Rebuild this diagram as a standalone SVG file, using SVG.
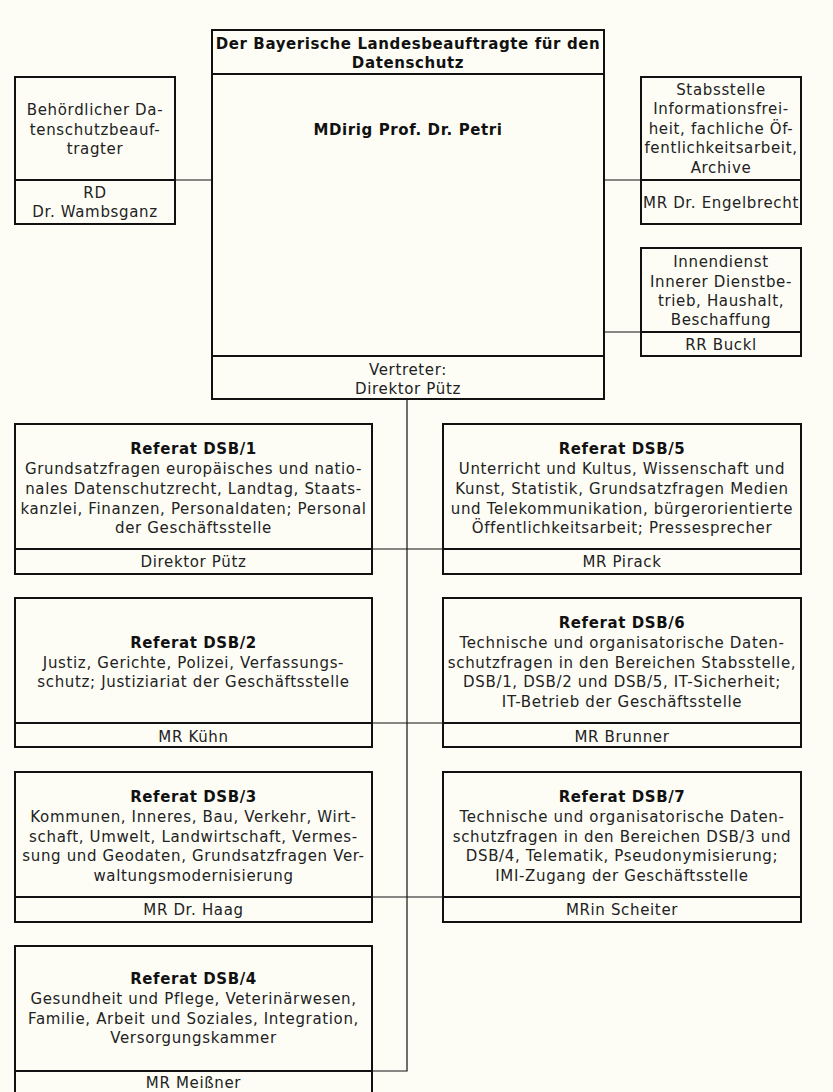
<svg xmlns="http://www.w3.org/2000/svg" width="833" height="1092" viewBox="0 0 833 1092">
<style>
.bx{fill:none;stroke:#111;stroke-width:2}
.dv{stroke:#111;stroke-width:2}
.cn{stroke:#111;stroke-width:1.2;fill:none}
text{font-family:"DejaVu Sans",Verdana,sans-serif;font-size:15px;letter-spacing:0.65px;fill:#222;text-anchor:middle}
.b{font-weight:bold;fill:#111;letter-spacing:0.6px}
</style>
<rect x="0" y="0" width="833" height="1092" fill="#fdfdf6"/>
<g id="connectors">
<line class="cn" x1="175" y1="180" x2="212" y2="180"/>
<line class="cn" x1="604" y1="180" x2="641" y2="180"/>
<line class="cn" x1="604" y1="332" x2="641" y2="332"/>
<polyline class="cn" points="407,399 407,1071 372,1071"/>
<line class="cn" x1="372" y1="549" x2="443" y2="549"/>
<line class="cn" x1="372" y1="723" x2="443" y2="723"/>
<line class="cn" x1="372" y1="897" x2="443" y2="897"/>
</g>
<g id="main">
<rect class="bx" x="212" y="30" width="392" height="369"/>
<line class="dv" x1="212" y1="74" x2="604" y2="74"/>
<line class="dv" x1="212" y1="356" x2="604" y2="356"/>
<text class="b" x="408" y="49">Der Bayerische Landesbeauftragte für den</text>
<text class="b" x="408" y="68">Datenschutz</text>
<text class="b" x="408" y="135">MDirig Prof. Dr. Petri</text>
<text x="408" y="375">Vertreter:</text>
<text x="408" y="394">Direktor Pütz</text>
</g>
<g id="bdsb">
<rect class="bx" x="15" y="77" width="160" height="147"/>
<line class="dv" x1="15" y1="180" x2="175" y2="180"/>
<text x="95" y="115">Behördlicher Da-</text>
<text x="95" y="135">tenschutzbeauf-</text>
<text x="95" y="154">tragter</text>
<text x="95" y="198">RD</text>
<text x="95" y="217">Dr. Wambsganz</text>
</g>
<g id="stabsstelle">
<rect class="bx" x="641" y="77" width="160" height="147"/>
<line class="dv" x1="641" y1="180" x2="801" y2="180"/>
<text x="721" y="95">Stabsstelle</text>
<text x="721" y="114">Informationsfrei-</text>
<text x="721" y="134">heit, fachliche Öf-</text>
<text x="721" y="153">fentlichkeitsarbeit,</text>
<text x="721" y="173">Archive</text>
<text x="721" y="208">MR Dr. Engelbrecht</text>
</g>
<g id="innendienst">
<rect class="bx" x="641" y="248" width="160" height="108"/>
<line class="dv" x1="641" y1="332" x2="801" y2="332"/>
<text x="721" y="267">Innendienst</text>
<text x="721" y="287">Innerer Dienstbe-</text>
<text x="721" y="306">trieb, Haushalt,</text>
<text x="721" y="325">Beschaffung</text>
<text x="721" y="350">RR Buckl</text>
</g>
<g id="dsb1">
<rect class="bx" x="15" y="424" width="357" height="150"/>
<line class="dv" x1="15" y1="549" x2="372" y2="549"/>
<text class="b" x="193.5" y="454">Referat DSB/1</text>
<text x="193.5" y="474">Grundsatzfragen europäisches und natio-</text>
<text x="193.5" y="494">nales Datenschutzrecht, Landtag, Staats-</text>
<text x="193.5" y="514">kanzlei, Finanzen, Personaldaten; Personal</text>
<text x="193.5" y="533">der Geschäftsstelle</text>
<text x="193.5" y="567">Direktor Pütz</text>
</g>
<g id="dsb5">
<rect class="bx" x="443" y="424" width="358" height="150"/>
<line class="dv" x1="443" y1="549" x2="801" y2="549"/>
<text class="b" x="622" y="454">Referat DSB/5</text>
<text x="622" y="474">Unterricht und Kultus, Wissenschaft und</text>
<text x="622" y="494">Kunst, Statistik, Grundsatzfragen Medien</text>
<text x="622" y="514">und Telekommunikation, bürgerorientierte</text>
<text x="622" y="533">Öffentlichkeitsarbeit; Pressesprecher</text>
<text x="622" y="567">MR Pirack</text>
</g>
<g id="dsb2">
<rect class="bx" x="15" y="598" width="357" height="149"/>
<line class="dv" x1="15" y1="723" x2="372" y2="723"/>
<text class="b" x="193.5" y="648">Referat DSB/2</text>
<text x="193.5" y="668">Justiz, Gerichte, Polizei, Verfassungs-</text>
<text x="193.5" y="687">schutz; Justiziariat der Geschäftsstelle</text>
<text x="193.5" y="742">MR Kühn</text>
</g>
<g id="dsb6">
<rect class="bx" x="443" y="598" width="358" height="149"/>
<line class="dv" x1="443" y1="723" x2="801" y2="723"/>
<text class="b" x="622" y="628">Referat DSB/6</text>
<text x="622" y="648">Technische und organisatorische Daten-</text>
<text x="622" y="668">schutzfragen in den Bereichen Stabsstelle,</text>
<text x="622" y="687">DSB/1, DSB/2 und DSB/5, IT-Sicherheit;</text>
<text x="622" y="707">IT-Betrieb der Geschäftsstelle</text>
<text x="622" y="742">MR Brunner</text>
</g>
<g id="dsb3">
<rect class="bx" x="15" y="772" width="357" height="150"/>
<line class="dv" x1="15" y1="897" x2="372" y2="897"/>
<text class="b" x="193.5" y="802">Referat DSB/3</text>
<text x="193.5" y="822">Kommunen, Inneres, Bau, Verkehr, Wirt-</text>
<text x="193.5" y="842">schaft, Umwelt, Landwirtschaft, Vermes-</text>
<text x="193.5" y="861">sung und Geodaten, Grundsatzfragen Ver-</text>
<text x="193.5" y="881">waltungsmodernisierung</text>
<text x="193.5" y="915">MR Dr. Haag</text>
</g>
<g id="dsb7">
<rect class="bx" x="443" y="772" width="358" height="150"/>
<line class="dv" x1="443" y1="897" x2="801" y2="897"/>
<text class="b" x="622" y="802">Referat DSB/7</text>
<text x="622" y="822">Technische und organisatorische Daten-</text>
<text x="622" y="842">schutzfragen in den Bereichen DSB/3 und</text>
<text x="622" y="861">DSB/4, Telematik, Pseudonymisierung;</text>
<text x="622" y="881">IMI-Zugang der Geschäftsstelle</text>
<text x="622" y="915">MRin Scheiter</text>
</g>
<g id="dsb4">
<rect class="bx" x="15" y="946" width="357" height="150"/>
<line class="dv" x1="15" y1="1071" x2="372" y2="1071"/>
<text class="b" x="193.5" y="984">Referat DSB/4</text>
<text x="193.5" y="1004">Gesundheit und Pflege, Veterinärwesen,</text>
<text x="193.5" y="1024">Familie, Arbeit und Soziales, Integration,</text>
<text x="193.5" y="1043">Versorgungskammer</text>
<text x="193.5" y="1088">MR Meißner</text>
</g>
</svg>
